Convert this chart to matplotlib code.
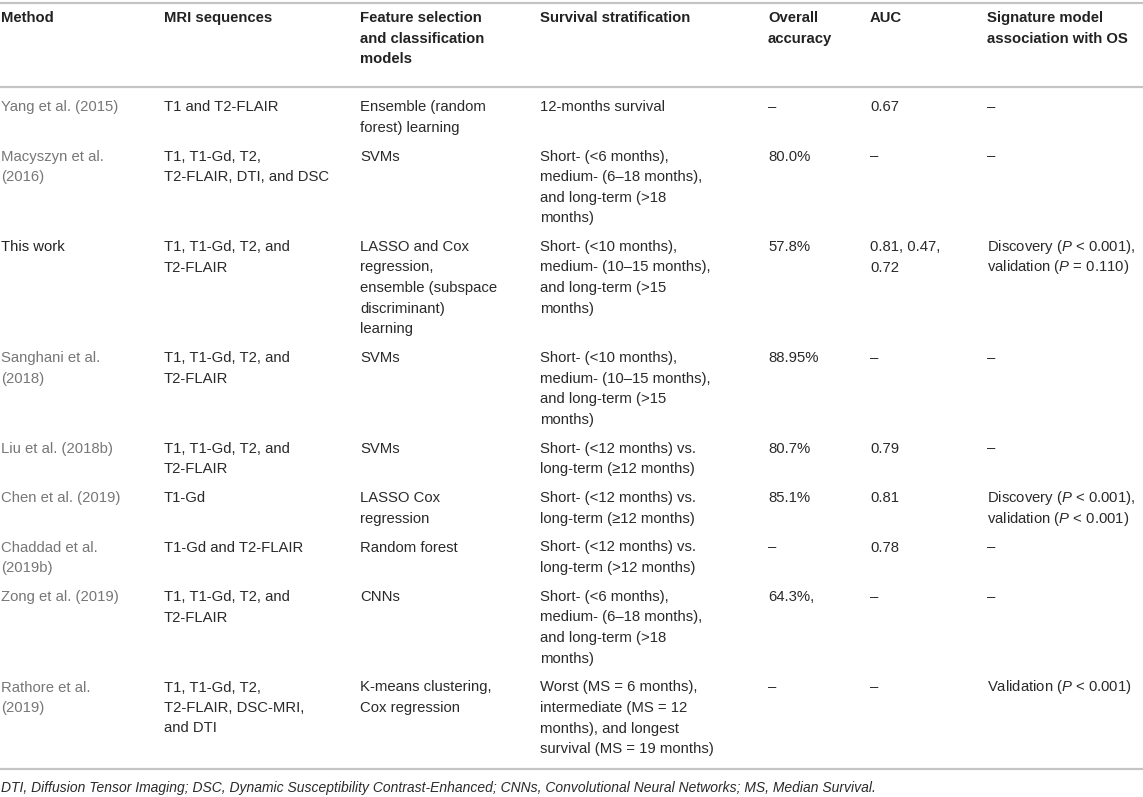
import matplotlib
matplotlib.use("Agg")
import matplotlib.pyplot as plt

plt.rcParams["font.family"] = ["Liberation Sans", "DejaVu Sans"]
plt.rcParams["mathtext.fontset"] = "custom"
plt.rcParams["mathtext.it"] = "Liberation Sans:italic"
plt.rcParams["mathtext.rm"] = "Liberation Sans"

# table content, line breaks as in the published table
headers = ["Method", "MRI sequences", "Feature selection\nand classification\nmodels",
           "Survival stratification", "Overall\naccuracy", "AUC",
           "Signature model\nassociation with OS"]

methods = ["Yang et al. (2015)", "Macyszyn et al.\n(2016)", "This work",
           "Sanghani et al.\n(2018)", "Liu et al. (2018b)", "Chen et al. (2019)",
           "Chaddad et al.\n(2019b)", "Zong et al. (2019)", "Rathore et al.\n(2019)"]

sequences = ["T1 and T2-FLAIR", "T1, T1-Gd, T2,\nT2-FLAIR, DTI, and DSC",
             "T1, T1-Gd, T2, and\nT2-FLAIR", "T1, T1-Gd, T2, and\nT2-FLAIR",
             "T1, T1-Gd, T2, and\nT2-FLAIR", "T1-Gd", "T1-Gd and T2-FLAIR",
             "T1, T1-Gd, T2, and\nT2-FLAIR", "T1, T1-Gd, T2,\nT2-FLAIR, DSC-MRI,\nand DTI"]

models = ["Ensemble (random\nforest) learning", "SVMs",
          "LASSO and Cox\nregression,\nensemble (subspace\ndiscriminant)\nlearning",
          "SVMs", "SVMs", "LASSO Cox\nregression", "Random forest", "CNNs",
          "K-means clustering,\nCox regression"]

stratification = [
    "12-months survival",
    "Short- (<6 months),\nmedium- (6–18 months),\nand long-term (>18\nmonths)",
    "Short- (<10 months),\nmedium- (10–15 months),\nand long-term (>15\nmonths)",
    "Short- (<10 months),\nmedium- (10–15 months),\nand long-term (>15\nmonths)",
    "Short- (<12 months) vs.\nlong-term (≥12 months)",
    "Short- (<12 months) vs.\nlong-term (≥12 months)",
    "Short- (<12 months) vs.\nlong-term (>12 months)",
    "Short- (<6 months),\nmedium- (6–18 months),\nand long-term (>18\nmonths)",
    "Worst (MS = 6 months),\nintermediate (MS = 12\nmonths), and longest\nsurvival (MS = 19 months)",
]

accuracy = ["–", "80.0%", "57.8%", "88.95%", "80.7%", "85.1%", "–", "64.3%,", "–"]
auc = ["0.67", "–", "0.81, 0.47,\n0.72", "–", "0.79", "0.81", "0.78", "–", "–"]
association = ["–", "–",
               "Discovery ($P$ < 0.001),\nvalidation ($P$ = 0.110)",
               "–", "–",
               "Discovery ($P$ < 0.001),\nvalidation ($P$ < 0.001)",
               "–", "–", "Validation ($P$ < 0.001)"]

footnote = ("DTI, Diffusion Tensor Imaging; DSC, Dynamic Susceptibility Contrast-Enhanced; "
            "CNNs, Convolutional Neural Networks; MS, Median Survival.")

columns = [methods, sequences, models, stratification, accuracy, auc, association]
col_x = [1, 164, 360, 540, 768, 870, 987]

W, H = 1143, 797
fig = plt.figure(figsize=(W / 100, H / 100), dpi=100)
ax = fig.add_axes([0, 0, 1, 1])
ax.set_xlim(0, W)
ax.set_ylim(H, 0)
ax.axis("off")

FS = 10.7
LINE = 20.5
PAD = 8.5
SHIFT = 5  # line centre -> baseline

def cell(x, y, text, **kw):
    for i, line in enumerate(text.split("\n")):
        ax.text(x, y + i * LINE + SHIFT, line, va="baseline", ha="left",
                fontsize=FS, **kw)

# header
for x, h in zip(col_x, headers):
    cell(x, 17, h, fontweight="bold", color="#222222")

# rules
rule = dict(color="#c4c4c4", lw=1.6)
for y in (3, 87, 769):
    ax.axhline(y, **rule)

# body rows
y = 106
for r in range(len(methods)):
    n = max(col[r].count("\n") + 1 for col in columns)
    for c, col in enumerate(columns):
        if c == 0:
            color = "#222222" if methods[r] == "This work" else "#777777"
        else:
            color = "#2a2a2a"
        cell(col_x[c], y, col[r], color=color)
    y += n * LINE + PAD

ax.text(1, 792, footnote, fontsize=10.0, style="italic", color="#2a2a2a",
        va="baseline", ha="left")

fig.savefig("out.png", dpi=100)
